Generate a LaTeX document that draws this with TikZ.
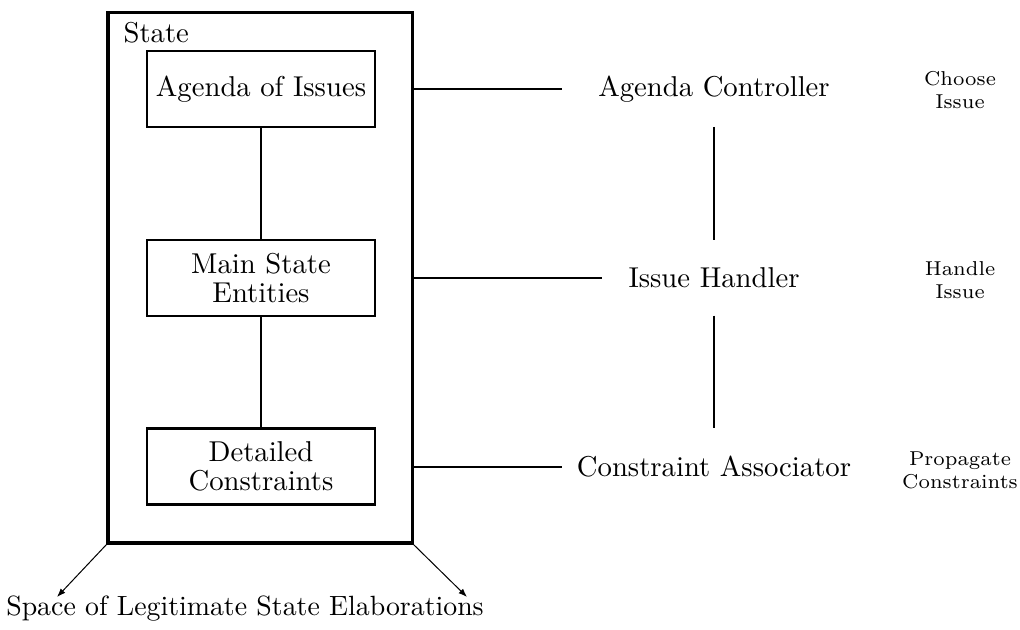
\documentclass[tikz,border=0pt]{standalone}
\usetikzlibrary{fit,arrows.meta}
\begin{document}
\begin{tikzpicture}[x=0.3484pt,y=-0.3484pt,
  box/.style={draw,line width=0.85pt,minimum width=79.4pt,minimum height=26.4pt,inner sep=0pt,align=center,font={\fontsize{10}{10}\selectfont}},
  lbl/.style={inner sep=0pt,font={\fontsize{10}{12}\selectfont}},
  act/.style={inner sep=0pt,align=center,font={\fontsize{7}{8}\selectfont}},
  conn/.style={line width=0.8pt},
  vconn/.style={line width=1pt},
  arr/.style={line width=0.35pt,-{Latex[length=3pt,width=2.2pt]}}]
\useasboundingbox (0,0) rectangle (1020,630);
% outer state box
\coordinate (s1) at (108,13);
\coordinate (s2) at (412,543);
\node[fit=(s1)(s2),inner sep=0pt,draw,line width=1.05pt] (state) {};
\node[lbl,anchor=base west] (statelbl) at (123,43) {State};
% inner boxes
\node[box] (agenda) at (261,89) {Agenda of Issues};
\node[box] (main) at (261,278) {Main State\\Entities};
\node[box] (detail) at (261,466.5) {Detailed\\Constraints};
\draw[conn] (agenda) -- (main);
\draw[conn] (main) -- (detail);
% right labels
\node[lbl] (ac) at (714,89) {Agenda Controller};
\node[lbl] (ih) at (714,278) {Issue Handler};
\node[lbl] (ca) at (714,467) {Constraint Associator};
\draw[conn,shorten >=12.5pt] (state.east |- ac) -- (ac.west);
\draw[conn,shorten >=9pt] (state.east |- ih) -- (ih.west);
\draw[conn,shorten >=4.9pt] (state.east |- ca) -- (ca.west);
\draw[vconn,shorten <=8.4pt,shorten >=9.4pt] (ac.south) -- (ih.north);
\draw[vconn,shorten <=9.4pt,shorten >=9.8pt] (ih.south) -- (ca.north);
% actions
\node[act] (choose) at (960,90) {Choose\\Issue};
\node[act] (handle) at (960,280) {Handle\\Issue};
\node[act] (prop) at (960,470) {Propagate\\Constraints};
% bottom
\node[lbl,anchor=base,font={\fontsize{9.7}{12}\selectfont}] (space) at (245,615) {Space of Legitimate State Elaborations};
\coordinate (al) at (57,597);
\coordinate (ar) at (467,597);
\draw[arr] (state.south west) -- (al);
\draw[arr] (state.south east) -- (ar);
\end{tikzpicture}
\end{document}
